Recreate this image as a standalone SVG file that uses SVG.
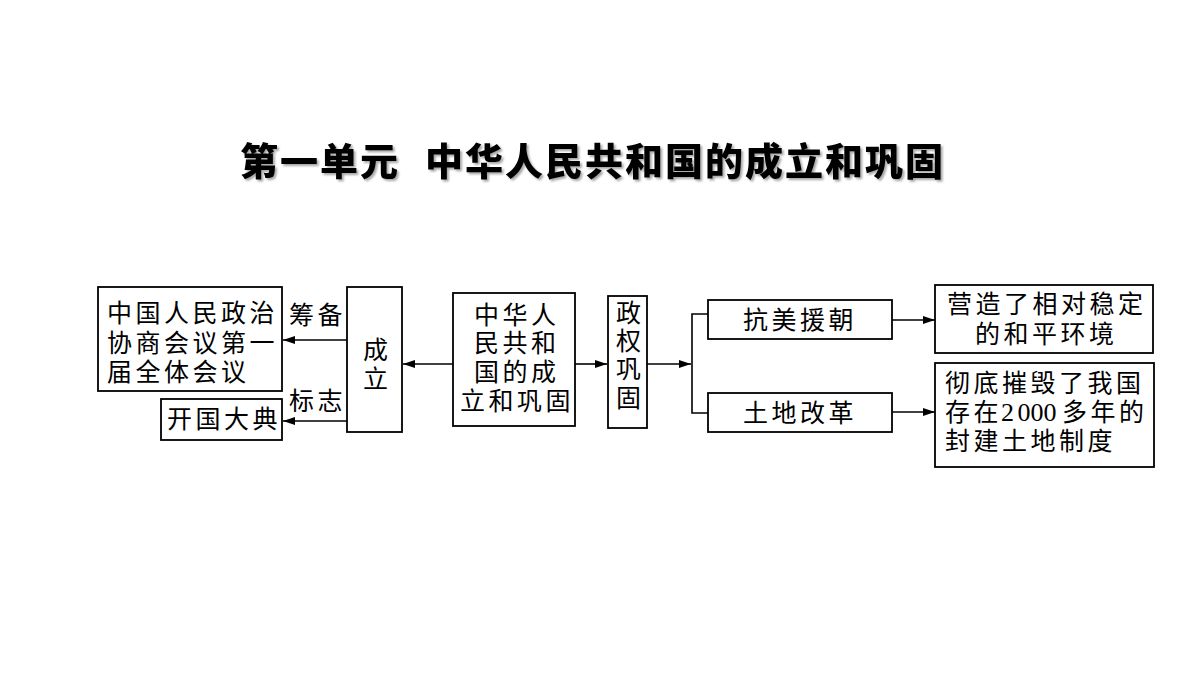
<svg xmlns="http://www.w3.org/2000/svg" width="1200" height="675" viewBox="0 0 1200 675">
<style>
.box{fill:#fff;stroke:#000;stroke-width:1.8}
.t{font-family:"Noto Sans CJK SC","Noto Sans",sans-serif;font-size:25px;letter-spacing:3.5px;fill:#000}
.ln{fill:none;stroke:#000;stroke-width:1.6}
.title{font-family:"Noto Sans CJK SC",sans-serif;font-size:38px;font-weight:900;letter-spacing:2px;fill:#000}
</style>
<defs>
<marker id="ah" markerUnits="userSpaceOnUse" markerWidth="13" markerHeight="9" refX="12" refY="4" orient="auto">
<path d="M0,0 L12,4 L0,8 Z" fill="#000"/>
</marker>
<filter id="sh" x="-5%" y="-30%" width="110%" height="160%">
<feDropShadow dx="2" dy="2" stdDeviation="1.2" flood-color="#000" flood-opacity="0.35"/>
</filter>
</defs>
<rect width="1200" height="675" fill="#fff"/>
<text class="title" filter="url(#sh)" y="175"><tspan x="240">第一单元 </tspan><tspan x="425">中华人民共和国的成立和巩固</tspan></text>

<g id="connectors">
<line class="ln" x1="347" y1="340" x2="283" y2="340" marker-end="url(#ah)"/>
<line class="ln" x1="347" y1="421" x2="283" y2="421" marker-end="url(#ah)"/>
<line class="ln" x1="453" y1="364" x2="403" y2="364" marker-end="url(#ah)"/>
<line class="ln" x1="575" y1="364" x2="607" y2="364" marker-end="url(#ah)"/>
<line class="ln" x1="647" y1="364" x2="691" y2="364" marker-end="url(#ah)"/>
<polyline class="ln" points="708,314 692,314 692,413 708,413"/>
<line class="ln" x1="892" y1="320" x2="935" y2="320" marker-end="url(#ah)"/>
<line class="ln" x1="892" y1="412" x2="935" y2="412" marker-end="url(#ah)"/>
<text class="t" x="289" y="324">筹备</text>
<text class="t" x="289" y="410">标志</text>
</g>

<g id="cppcc">
<rect class="box" x="98" y="287" width="184" height="104"/>
<text class="t" x="107" y="322">中国人民政治</text>
<text class="t" x="107" y="352">协商会议第一</text>
<text class="t" x="107" y="381">届全体会议</text>
</g>

<g id="ceremony">
<rect class="box" x="161" y="399" width="121" height="41"/>
<text class="t" x="167" y="428">开国大典</text>
</g>

<g id="founding">
<rect class="box" x="347" y="287" width="55" height="145"/>
<text class="t" x="363" y="359">成</text>
<text class="t" x="363" y="388">立</text>
</g>

<g id="prc">
<rect class="box" x="453" y="293" width="122" height="133"/>
<text class="t" x="474" y="324">中华人</text>
<text class="t" x="474" y="352">民共和</text>
<text class="t" x="474" y="381">国的成</text>
<text class="t" x="460" y="410">立和巩固</text>
</g>

<g id="consolidate">
<rect class="box" x="608" y="296" width="39" height="132"/>
<text class="t" x="616" y="322">政</text>
<text class="t" x="616" y="350">权</text>
<text class="t" x="616" y="378">巩</text>
<text class="t" x="616" y="407">固</text>
</g>

<g id="korea">
<rect class="box" x="708" y="300" width="184" height="39"/>
<text class="t" x="743" y="329">抗美援朝</text>
</g>

<g id="land">
<rect class="box" x="708" y="393" width="184" height="39"/>
<text class="t" x="743" y="422">土地改革</text>
</g>

<g id="peace">
<rect class="box" x="935" y="285" width="218" height="68"/>
<text class="t" x="947" y="313">营造了相对稳定</text>
<text class="t" x="975" y="343">的和平环境</text>
</g>

<g id="feudal">
<rect class="box" x="935" y="363" width="219" height="104"/>
<text class="t" x="945" y="392">彻底摧毁了我国</text>
<text class="t" y="421"><tspan x="945">存在</tspan><tspan x="1001" style="font-family:'Liberation Serif',serif;font-size:26px;letter-spacing:0;word-spacing:-3px">2 000</tspan><tspan x="1062">多年的</tspan></text>
<text class="t" x="945" y="450">封建土地制度</text>
</g>
</svg>
